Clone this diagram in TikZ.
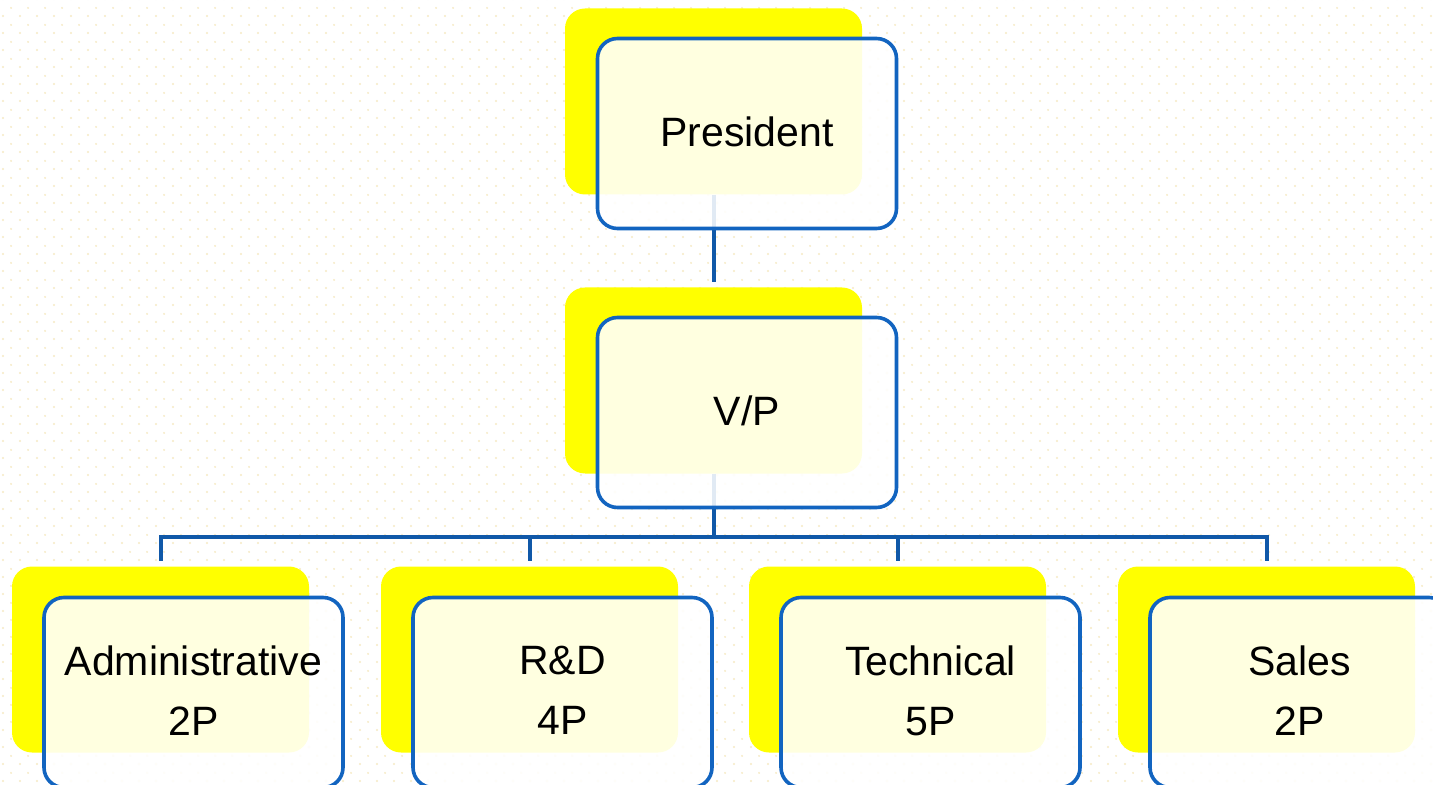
\documentclass[tikz,border=0pt]{standalone}
\usepackage{fontspec}
\setmainfont{Liberation Sans}
\usetikzlibrary{patterns}
\definecolor{boxblue}{RGB}{18,100,192}
\definecolor{linkblue}{RGB}{16,88,168}
\definecolor{dotc}{RGB}{246,234,196}
\definecolor{shadowyellow}{RGB}{255,255,0}
\pgfdeclarepatternformonly{bgdots}{\pgfpointorigin}{\pgfpoint{8.5pt}{8.5pt}}{\pgfpoint{8.5pt}{8.5pt}}{%
  \pgfpathcircle{\pgfpoint{2.125pt}{2.125pt}}{0.55pt}%
  \pgfpathcircle{\pgfpoint{6.375pt}{6.375pt}}{0.55pt}%
  \pgfusepath{fill}}
\begin{document}
\begin{tikzpicture}[x=0.5pt,y=-0.5pt,
  shadowbox/.style={fill=shadowyellow, rounded corners=10pt, minimum width=148.5pt, minimum height=93pt, inner sep=0pt},
  frontbox/.style={draw=boxblue, line width=1.8pt, fill=white, fill opacity=0.88, text opacity=1, rounded corners=10pt, minimum width=149.5pt, minimum height=95pt, align=center, font=\fontsize{20.5pt}{30pt}\selectfont, text depth=2pt, inner sep=0pt},
  link/.style={draw=linkblue, line width=2pt}]
\useasboundingbox (0,0) rectangle (1433,785);
\clip (0,0) rectangle (1433,785);
\fill[white] (0,0) rectangle (1433,785);
% background dots
\fill[pattern=bgdots, pattern color=dotc] (0,0) rectangle (1433,785);
% yellow shadow boxes
\node[shadowbox] (pS) at (713.5,101.5) {};
\node[shadowbox] (vS) at (713.5,380.5) {};
\node[shadowbox] (aS) at (160.5,659.5) {};
\node[shadowbox] (rS) at (529.5,659.5) {};
\node[shadowbox] (tS) at (897.5,659.5) {};
\node[shadowbox] (sS) at (1266.5,659.5) {};
% connectors
\draw[link, shorten >=2.5pt] (pS.south) -- (vS.north);
\coordinate (bus) at (713.5,537);
\draw[link] (vS.south) -- (bus);
\foreach \n in {aS,rS,tS,sS}{
  \draw[link, shorten >=2.5pt] (bus) -| (\n.north);
}
% front boxes
\node[frontbox] (pF) at (747,133.5) {President};
\node[frontbox] (vF) at (747,412.5) {V/P};
\node[frontbox] (aF) at (193.5,692.5) {Administrative\\2P};
\node[frontbox] (rF) at (562.5,692.5) {R\&D\\4P};
\node[frontbox] (tF) at (930.5,692.5) {Technical\\5P};
\node[frontbox] (sF) at (1299.5,692.5) {Sales\\2P};
\end{tikzpicture}
\end{document}
